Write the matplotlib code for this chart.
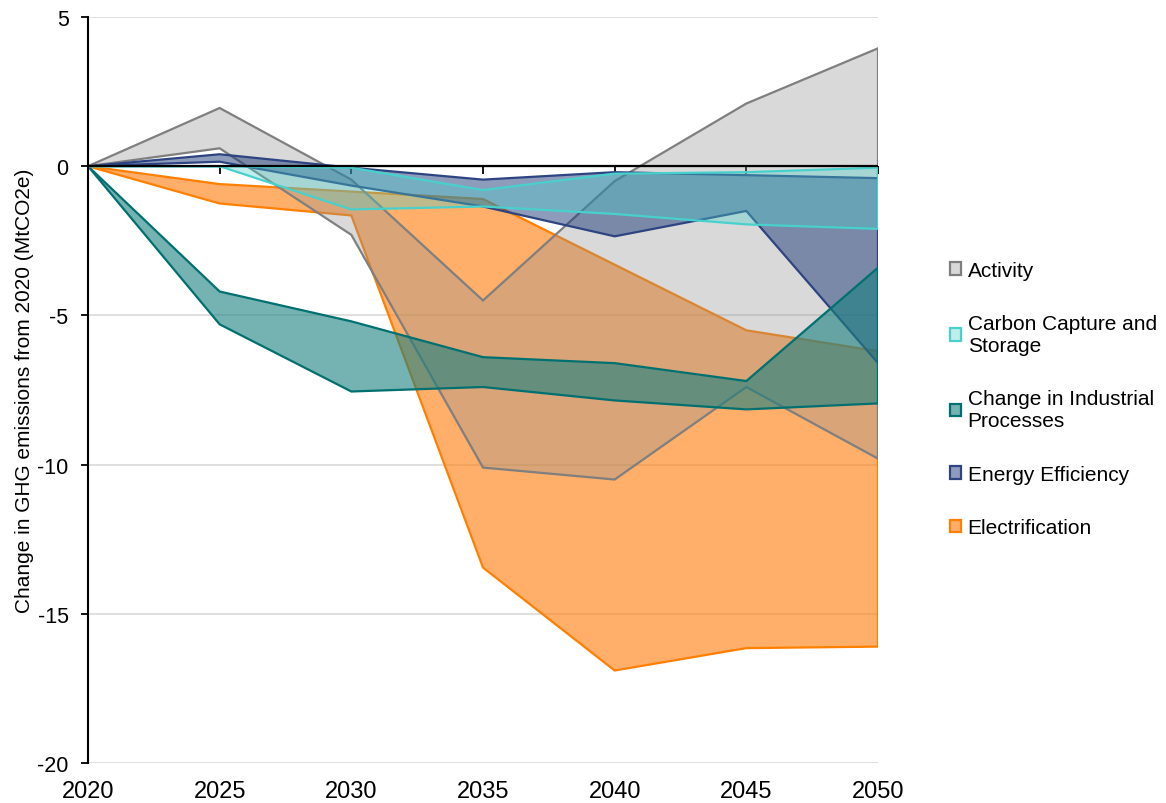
import numpy as np
import matplotlib
matplotlib.use("Agg")
import matplotlib.pyplot as plt

plt.rcParams['font.family'] = ['Liberation Sans', 'DejaVu Sans']

years = [2020, 2025, 2030, 2035, 2040, 2045, 2050]

# each wedge is the range between two scenarios
activity_hi = [0, 1.95, -0.45, -4.5, -0.5, 2.1, 3.95]
activity_lo = [0, 0.6, -2.3, -10.1, -10.5, -7.4, -9.8]
ccs_hi = [0, 0, -0.05, -0.8, -0.25, -0.2, -0.05]
ccs_lo = [0, 0, -1.45, -1.35, -1.6, -1.95, -2.1]
ind_hi = [0, -4.2, -5.2, -6.4, -6.6, -7.2, -3.4]
ind_lo = [0, -5.3, -7.55, -7.4, -7.85, -8.15, -7.95]
ee_hi = [0, 0.4, -0.05, -0.45, -0.2, -0.3, -0.4]
ee_lo = [0, 0.15, -0.65, -1.35, -2.35, -1.5, -6.6]
elec_hi = [0, -0.6, -0.85, -1.1, -3.3, -5.5, -6.2]
elec_lo = [0, -1.25, -1.65, -13.45, -16.9, -16.15, -16.1]

names = ["Activity", "Carbon Capture and\nStorage", "Change in Industrial\nProcesses",
         "Energy Efficiency", "Electrification"]

fig = plt.figure(figsize=(11.66, 8.04), dpi=100)
ax = fig.add_axes([88/1166, 1-764/804, (878-88)/1166, (764-18)/804])


def wedge(hi, lo, face, alpha, edge, label):
    x = np.r_[years, years[::-1]]
    y = np.r_[hi, lo[::-1]]
    p, = ax.fill(x, y, facecolor=matplotlib.colors.to_rgba(face, alpha),
                 edgecolor=edge, lw=1.6, label=label)
    return p


# drawing order (back to front)
p_elec = wedge(elec_hi, elec_lo, "#ff7f0e", 0.62, "#ff7f00", names[4])
p_act = wedge(activity_hi, activity_lo, "#929292", 0.35, "#7f7f7f", names[0])
p_ee = wedge(ee_hi, ee_lo, "#1f3b7a", 0.5, "#2e4482", names[3])
p_ind = wedge(ind_hi, ind_lo, "#1a8080", 0.6, "#007070", names[2])
p_ccs = wedge(ccs_hi, ccs_lo, "#48d1cc", 0.35, "#48d1cc", names[1])

ax.set_xlim(2020, 2050)
ax.set_ylim(-20, 5)
ax.set_xticks(years)
ax.set_yticks([5, 0, -5, -10, -15, -20])
ax.set_yticklabels(["5", "0", "-5", "-10", "-15", "-20"])
ax.grid(axis="y", color="#d9d9d9", lw=1.2)
ax.set_axisbelow(True)
for s in ["top", "right", "bottom"]:
    ax.spines[s].set_visible(False)
ax.spines["left"].set_linewidth(1.5)
ax.tick_params(axis="x", length=0, labelsize=17, pad=12)
ax.tick_params(axis="y", direction="out", length=5, width=1.3, labelsize=15.5, pad=9)
ax.set_ylabel("Change in GHG emissions from 2020 (MtCO2e)", fontsize=15, labelpad=2)

# horizontal axis crossing at zero, ticks pointing down
ax.axhline(0, color="black", lw=1.6, zorder=5)
sec = ax.secondary_xaxis(0.8)
sec.set_xticks(years)
sec.tick_params(direction="in", length=6, width=1.3, labeltop=False, labelbottom=False)

ax.legend(handles=[p_act, p_ccs, p_ind, p_ee, p_elec], frameon=False,
          loc="center left", bbox_to_anchor=(950/1166, 1-400/804),
          bbox_transform=fig.transFigure, fontsize=15, labelspacing=1.65,
          handlelength=0.55, handleheight=0.55, handletextpad=0.3,
          borderpad=0, borderaxespad=0)

fig.savefig("out.png", dpi=100)
